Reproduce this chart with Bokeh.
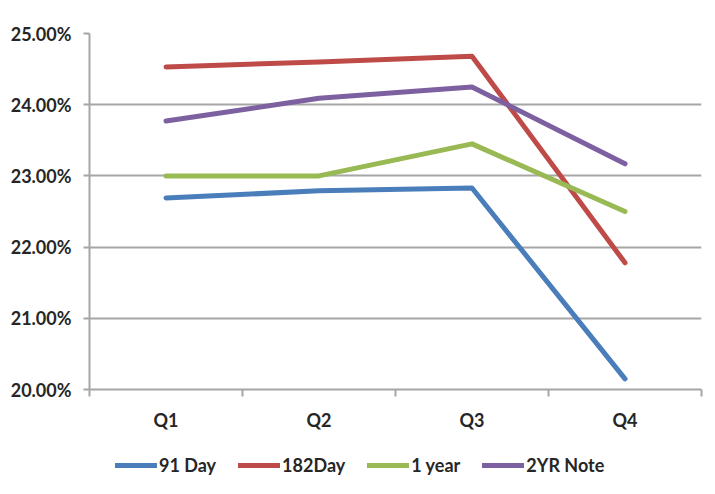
from bokeh.plotting import figure
from bokeh.layouts import column
from bokeh.models import Range1d, FixedTicker, PrintfTickFormatter, Legend, LegendItem, ColumnDataSource
from bokeh.embed import file_html
from bokeh.resources import INLINE

quarters = ["Q1", "Q2", "Q3", "Q4"]
day91 = [22.69, 22.79, 22.83, 20.15]
day182 = [24.53, 24.60, 24.68, 21.78]
year1 = [23.00, 23.00, 23.45, 22.50]
note2yr = [23.77, 24.09, 24.25, 23.17]
series_names = ["91 Day", "182Day", "1 year", "2YR Note"]
colors = ["#4A7EBB", "#BE4B48", "#98B954", "#7D60A0"]
y_ticks = [20, 21, 22, 23, 24, 25]

xpos = [i + 0.5 for i in range(len(quarters))]

p = figure(width=715, height=434, output_backend="svg", toolbar_location=None,
           x_range=Range1d(0, len(quarters)), y_range=Range1d(20, 25),
           min_border_left=89, min_border_right=14, min_border_top=33, min_border_bottom=45)
p.outline_line_color = None
p.background_fill_color = "white"
p.border_fill_color = "white"

FONT = "Lato"
GRAY = "#A6A6A6"
FS = "18px"

p.xgrid.visible = False
p.ygrid.ticker = FixedTicker(ticks=y_ticks)
p.ygrid.grid_line_color = GRAY
p.ygrid.grid_line_width = 2

p.yaxis.ticker = FixedTicker(ticks=y_ticks)
p.yaxis.formatter = PrintfTickFormatter(format="%.2f%%")
p.yaxis.axis_line_color = GRAY
p.yaxis.axis_line_width = 2
p.yaxis.major_tick_line_color = GRAY
p.yaxis.major_tick_line_width = 2
p.yaxis.major_tick_out = 6
p.yaxis.major_tick_in = 0
p.yaxis.minor_tick_line_color = None
p.yaxis.major_label_text_font = FONT
p.yaxis.major_label_text_font_style = "bold"
p.yaxis.major_label_text_font_size = FS
p.yaxis.major_label_text_color = "#262626"
p.yaxis.major_label_standoff = 12

p.xaxis.ticker = FixedTicker(ticks=xpos, minor_ticks=list(range(len(quarters) + 1)))
p.xaxis.major_label_overrides = {x: q for x, q in zip(xpos, quarters)}
p.xaxis.axis_line_color = GRAY
p.xaxis.axis_line_width = 2
p.xaxis.major_tick_line_color = None
p.xaxis.minor_tick_line_color = GRAY
p.xaxis.minor_tick_line_width = 2
p.xaxis.minor_tick_out = 7
p.xaxis.minor_tick_in = 0
p.xaxis.major_label_text_font = FONT
p.xaxis.major_label_text_font_style = "bold"
p.xaxis.major_label_text_font_size = FS
p.xaxis.major_label_text_color = "#262626"
p.xaxis.major_label_standoff = 12

# legend strip below the chart
pl = figure(width=715, height=60, output_backend="svg", toolbar_location=None,
            x_axis_type=None, y_axis_type=None,
            x_range=Range1d(-100, -99), y_range=Range1d(-100, -99),
            min_border_left=0, min_border_right=0, min_border_top=0, min_border_bottom=0)
pl.outline_line_color = None
pl.background_fill_color = "white"
pl.border_fill_color = "white"

items = []
for name, vals, c in zip(series_names, [day91, day182, year1, note2yr], colors):
    src = ColumnDataSource(dict(x=xpos, y=vals))
    p.line("x", "y", source=src, line_color=c, line_width=5, line_cap="round", line_join="round")
    r = pl.line("x", "y", source=src, line_color=c, line_width=5, line_cap="round")
    items.append(LegendItem(label=name, renderers=[r]))

legend = Legend(items=items, orientation="horizontal", location=(26, 18),
                border_line_color=None, background_fill_alpha=0,
                padding=0, margin=0, spacing=22, label_standoff=2,
                glyph_width=42, glyph_height=18,
                label_text_font=FONT, label_text_font_style="bold",
                label_text_font_size=FS, label_text_color="#262626")
pl.add_layout(legend, "center")

layout = column(p, pl, spacing=0)
open("out.html", "w").write(file_html(layout, INLINE))
